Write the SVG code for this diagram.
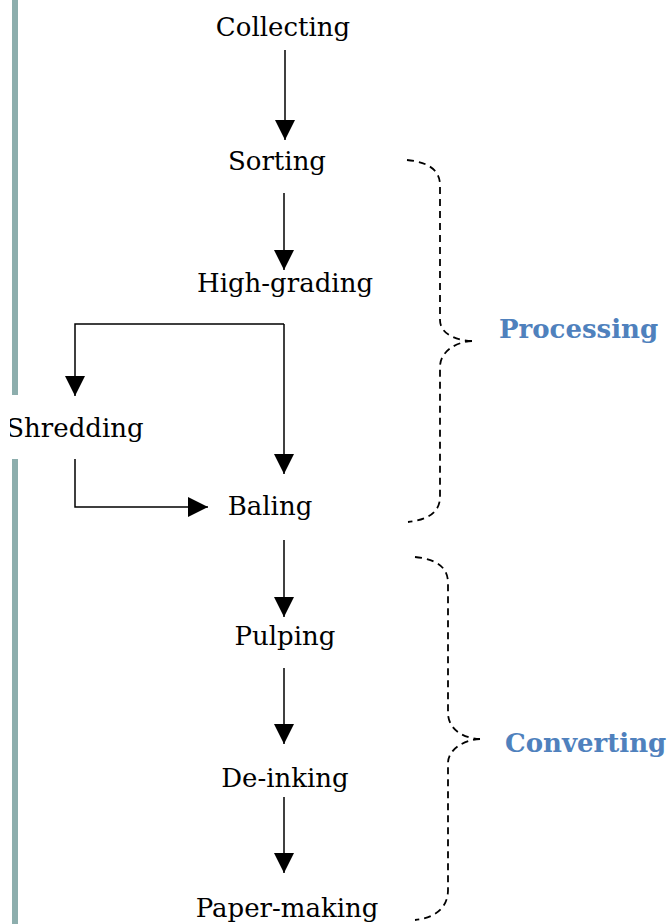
<svg xmlns="http://www.w3.org/2000/svg" width="670" height="924" viewBox="0 0 670 924">
  <defs>
    <marker id="arrow" viewBox="0 0 20 20" markerWidth="20" markerHeight="20" refX="20" refY="10" orient="auto" markerUnits="userSpaceOnUse">
      <path d="M0,0 L20,10 L0,20 Z" fill="#000"/>
    </marker>
    <clipPath id="clip-left">
      <rect x="10" y="0" width="660" height="924"/>
    </clipPath>
  </defs>
  <style>
    .step { font-family: "DejaVu Serif", "Liberation Serif", serif; font-size: 26px; fill: #000; text-anchor: middle; }
    .phase { font-family: "DejaVu Serif", "Liberation Serif", serif; font-size: 26px; font-weight: bold; fill: #4F81BD; }
    .conn { fill: none; stroke: #000; stroke-width: 1.5; }
    .brace { fill: none; stroke: #000; stroke-width: 1.8; stroke-dasharray: 7 5; }
    .bar { fill: #8DAEAD; }
  </style>

  <rect width="670" height="924" fill="#fff"/>

  <!-- side rule -->
  <g id="side-rule">
    <rect class="bar" x="12" y="0" width="6" height="395"/>
    <rect class="bar" x="12" y="459" width="6" height="465"/>
  </g>

  <!-- connectors -->
  <g id="connectors">
    <line class="conn" x1="285" y1="50" x2="285" y2="140" marker-end="url(#arrow)"/>
    <line class="conn" x1="284" y1="193" x2="284" y2="270" marker-end="url(#arrow)"/>
    <polyline class="conn" points="284,324 75,324 75,396" marker-end="url(#arrow)"/>
    <line class="conn" x1="284" y1="324" x2="284" y2="474" marker-end="url(#arrow)"/>
    <polyline class="conn" points="75,459 75,507 208,507" marker-end="url(#arrow)"/>
    <line class="conn" x1="284" y1="540" x2="284" y2="617" marker-end="url(#arrow)"/>
    <line class="conn" x1="284" y1="668" x2="284" y2="744" marker-end="url(#arrow)"/>
    <line class="conn" x1="284" y1="797" x2="284" y2="873" marker-end="url(#arrow)"/>
  </g>

  <!-- steps -->
  <g id="collecting"><text class="step" x="283" y="36">Collecting</text></g>
  <g id="sorting"><text class="step" x="277" y="170">Sorting</text></g>
  <g id="high-grading"><text class="step" x="285" y="292">High-grading</text></g>
  <g id="shredding" clip-path="url(#clip-left)"><text class="step" x="75" y="437">Shredding</text></g>
  <g id="baling"><text class="step" x="270" y="515">Baling</text></g>
  <g id="pulping"><text class="step" x="285" y="645">Pulping</text></g>
  <g id="de-inking"><text class="step" x="285" y="787">De-inking</text></g>
  <g id="paper-making"><text class="step" x="287" y="917">Paper-making</text></g>

  <!-- phase braces -->
  <g id="processing">
    <path class="brace" d="M407,160 C428,162 440,170 440,185 L440,320 C440,332 452,340 472,341"/>
    <path class="brace" d="M472,341 C455,342 440,352 440,367 L440,497 C440,512 428,520 408,522"/>
    <text class="phase" x="499" y="338">Processing</text>
  </g>
  <g id="converting">
    <path class="brace" d="M415,557 C436,559 448,567 448,583 L448,713 C448,727 460,738 480,739"/>
    <path class="brace" d="M480,739 C463,740 448,750 448,763 L448,890 C448,907 436,918 415,920"/>
    <text class="phase" x="505" y="752">Converting</text>
  </g>
</svg>
